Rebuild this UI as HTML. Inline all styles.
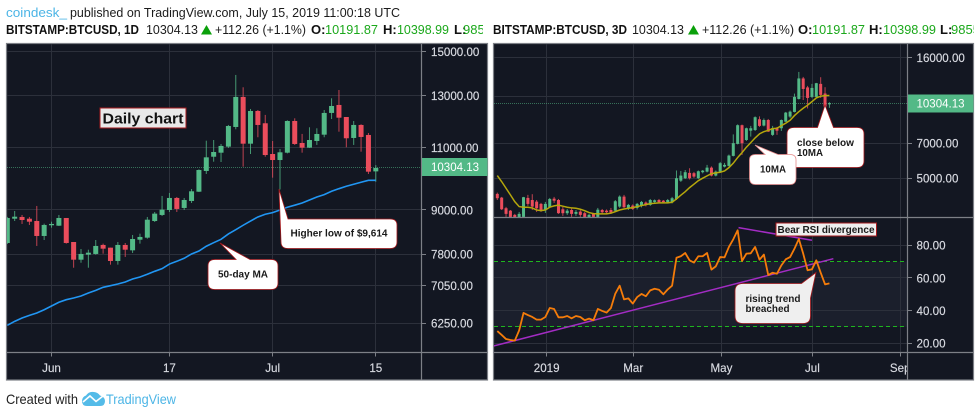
<!DOCTYPE html>
<html lang="en">
<head>
<meta charset="utf-8">
<title>BTCUSD charts</title>
<style>
html,body{margin:0;padding:0;background:#fff;width:980px;height:417px;overflow:hidden}
svg{display:block;font-family:"Liberation Sans",sans-serif}
.hd{font-size:13px;fill:#1b1b1b}
.hb{font-size:13px;fill:#111;font-weight:bold}
.hg{font-size:13px;fill:#1ba81b}
.ax{font-size:11.6px;fill:#d9dbe2;stroke:#d9dbe2;stroke-width:.15px}
.an{font-size:10.5px;fill:#1a1a1a;font-weight:bold}
</style>
</head>
<body>
<svg id="root" xmlns="http://www.w3.org/2000/svg" width="980" height="417" viewBox="0 0 980 417">
  <defs>
    <clipPath id="clip-left"><rect x="7" y="44" width="414.5" height="308"/></clipPath>
    <clipPath id="clip-right-top"><rect x="494" y="44" width="413" height="173"/></clipPath>
    <clipPath id="clip-right-rsi"><rect x="494" y="218" width="413" height="134"/></clipPath>
    <clipPath id="clip-head-left"><rect x="0" y="20" width="483" height="20"/></clipPath>
    <clipPath id="clip-head-right"><rect x="490" y="20" width="484" height="20"/></clipPath>
    <clipPath id="clip-time-right"><rect x="494" y="353" width="413" height="27"/></clipPath>
  </defs>

  <text x="6" y="17" font-size="13" fill="#4cb5e6" textLength="61" lengthAdjust="spacingAndGlyphs">coindesk_</text>
  <text class="hd" x="70" y="17" textLength="330" lengthAdjust="spacingAndGlyphs">published on TradingView.com, July 15, 2019 11:00:18 UTC</text>

  <g clip-path="url(#clip-head-left)">
    <text class="hb" x="6" y="34" textLength="133" lengthAdjust="spacingAndGlyphs">BITSTAMP:BTCUSD, 1D</text>
    <text class="hd" x="146" y="34" textLength="52" lengthAdjust="spacingAndGlyphs">10304.13</text>
    <polygon points="201,34.5 206.5,25 212,34.5" fill="#0aa00a"/>
    <text class="hd" x="215" y="34" textLength="91" lengthAdjust="spacingAndGlyphs">+112.26 (+1.1%)</text>
    <text class="hb" x="311" y="34">O:</text>
    <text class="hg" x="325" y="34" textLength="53" lengthAdjust="spacingAndGlyphs">10191.87</text>
    <text class="hb" x="383" y="34">H:</text>
    <text class="hg" x="397" y="34" textLength="52" lengthAdjust="spacingAndGlyphs">10398.99</text>
    <text class="hb" x="454" y="34">L:</text>
    <text class="hg" x="463" y="34">9855.00</text>
  </g>
  <g clip-path="url(#clip-head-right)">
    <text class="hb" x="493" y="34" textLength="134" lengthAdjust="spacingAndGlyphs">BITSTAMP:BTCUSD, 3D</text>
    <text class="hd" x="632" y="34" textLength="52" lengthAdjust="spacingAndGlyphs">10304.13</text>
    <polygon points="688,34.5 693.5,25 699,34.5" fill="#0aa00a"/>
    <text class="hd" x="702" y="34" textLength="92" lengthAdjust="spacingAndGlyphs">+112.26 (+1.1%)</text>
    <text class="hb" x="798" y="34">O:</text>
    <text class="hg" x="812" y="34" textLength="53" lengthAdjust="spacingAndGlyphs">10191.87</text>
    <text class="hb" x="869" y="34">H:</text>
    <text class="hg" x="883" y="34" textLength="53" lengthAdjust="spacingAndGlyphs">10398.99</text>
    <text class="hb" x="940" y="34">L:</text>
    <text class="hg" x="951" y="34">9855.00</text>
  </g>

  <rect x="6.5" y="43.5" width="481" height="336.5" fill="#131722" stroke="#7d8087" stroke-width="1.2"/>
  <rect x="493.5" y="43.5" width="480" height="336.5" fill="#131722" stroke="#7d8087" stroke-width="1.2"/>
  <rect id="rsiBand" x="494" y="262" width="413" height="65" fill="#1b1f2c"/>

  <g id="leftGrid"></g>
  <g id="rightGrid"></g>

  <line id="leftLast" x1="7" x2="421.5" stroke="#53b987" stroke-opacity=".55" stroke-dasharray="1 1"/>
  <line id="rightLast" x1="494" x2="907" stroke="#53b987" stroke-opacity=".55" stroke-dasharray="1 1"/>

  <g id="leftCandles" clip-path="url(#clip-left)"></g>
  <path id="leftMA" fill="none" stroke="#2196f3" stroke-width="1.6" clip-path="url(#clip-left)"/>
  <g id="rightCandles" clip-path="url(#clip-right-top)"></g>
  <path id="rightMA" fill="none" stroke="#b5a70c" stroke-width="1.5" clip-path="url(#clip-right-top)"/>

  <g id="rsiBands"></g>
  <g id="rsiTrends" clip-path="url(#clip-right-rsi)"></g>
  <path id="rsiLine" fill="none" stroke="#f57c0a" stroke-width="1.8" stroke-linejoin="round" clip-path="url(#clip-right-rsi)"/>

  <g id="frames" stroke="#7d8087" stroke-width="1.2">
    <line x1="421.5" y1="44" x2="421.5" y2="380"/>
    <line x1="7" y1="352.5" x2="487" y2="352.5"/>
    <line x1="907.5" y1="44" x2="907.5" y2="380"/>
    <line x1="494" y1="352.5" x2="973" y2="352.5"/>
    <line x1="494" y1="217.5" x2="973" y2="217.5"/>
  </g>
  <g id="leftAxis"></g>
  <g id="rightAxis"></g>
  <g id="rsiAxis"></g>
  <g id="leftTime"></g>
  <g id="rightTime" clip-path="url(#clip-time-right)"></g>

  <rect x="422" y="158" width="65.5" height="18" fill="#53b987"/>
  <text x="431" y="171.2" font-size="12" fill="#fff" textLength="48" lengthAdjust="spacingAndGlyphs">10304.13</text>
  <rect x="908" y="94.5" width="65.5" height="18" fill="#53b987"/>
  <text x="916.5" y="107.7" font-size="12" fill="#fff" textLength="48" lengthAdjust="spacingAndGlyphs">10304.13</text>

  <g>
    <rect x="100" y="108" width="86" height="20" fill="#e9e9e9" stroke="#a5181c" stroke-width="1"/>
    <text x="102.5" y="123.5" font-size="15" font-weight="bold" fill="#111" textLength="81" lengthAdjust="spacingAndGlyphs">Daily chart</text>
  </g>
  <g>
    <path d="M279,189 L288,219 H390 Q397,219 397,225 V242 Q397,248.5 390,248.5 H288 Q281,248.5 281,242 Z" fill="#fff" stroke="#a5181c" stroke-width=".8"/>
    <text class="an" x="290.5" y="236.5" textLength="97" lengthAdjust="spacingAndGlyphs">Higher low of $9,614</text>
  </g>
  <g>
    <path d="M220,243 L250,259.5 H271 Q278,259.5 278,266 V283 Q278,289.5 271,289.5 H215 Q208,289.5 208,283 V266 Q208,259.5 215,259.5 H236 Z" fill="#fff" stroke="#a5181c" stroke-width=".8"/>
    <text class="an" x="218" y="277.5" textLength="50" lengthAdjust="spacingAndGlyphs">50-day MA</text>
  </g>
  <g>
    <path d="M825,105 L833.5,127.5 H857 Q864,127.5 864,134 V161 Q864,167.5 857,167.5 H794 Q787,167.5 787,161 V134 Q787,127.5 794,127.5 H817.5 Z" fill="#fff" stroke="#a5181c" stroke-width=".8"/>
    <text class="an" x="797" y="146" textLength="57" lengthAdjust="spacingAndGlyphs">close below</text>
    <text class="an" x="797" y="156" textLength="26" lengthAdjust="spacingAndGlyphs">10MA</text>
  </g>
  <g>
    <path d="M755,145 L778,154.5 H790 Q796,154.5 796,160 V178 Q796,184.5 790,184.5 H755.5 Q749.5,184.5 749.5,178 V160 Q749.5,154.5 755.5,154.5 H765 Z" fill="#fff" stroke="#e58a8a" stroke-width=".8"/>
    <text class="an" x="760" y="172.5" textLength="26" lengthAdjust="spacingAndGlyphs">10MA</text>
  </g>
  <g>
    <rect x="776" y="223" width="100.5" height="13" fill="#efefef" stroke="#a5181c" stroke-width="1"/>
    <text class="an" x="777.5" y="233.2" textLength="97" lengthAdjust="spacingAndGlyphs">Bear RSI divergence</text>
  </g>
  <g>
    <path d="M816,272.5 L810.5,298 V316 Q810.5,323.5 803,323.5 H743 Q735,323.5 735,316 V291 Q735,283.5 743,283.5 H801.5 Z" fill="#efefef" stroke="#a5181c" stroke-width=".8"/>
    <text class="an" x="745.5" y="302" textLength="55" lengthAdjust="spacingAndGlyphs">rising trend</text>
    <text class="an" x="745.5" y="312" textLength="44" lengthAdjust="spacingAndGlyphs">breached</text>
  </g>

  <text x="6" y="404" font-size="14" fill="#222" textLength="72" lengthAdjust="spacingAndGlyphs">Created with</text>
  <g>
    <path d="M82,401 Q82,397 86,395.5 Q89,391 94,392 Q98,392.5 100,395.5 Q105,397 105,401 Q105,406 100,406 H87 Q82,406 82,401 Z" fill="#54bbe8"/>
    <path d="M83,402 L90,396 L96,401.5 L103,396" fill="none" stroke="#fff" stroke-width="1.6"/>
    <text x="106" y="404" font-size="14" fill="#4cb5e6" textLength="70" lengthAdjust="spacingAndGlyphs">TradingView</text>
  </g>
</svg>
<script>
var dailyOpen=[8091,8750,8799,8750,8685,8276,8567,8555,8770,8117,7667,7793,7810,8040,7970,7635,8040,7902,8177,8231,8685,8856,8999,9355,9058,9264,9546,10205,10685,10825,11038,11760,12956,11144,12383,11902,10779,10572,10825,11990,11169,11002,11241,11472,12305,12625,12145,11351,11837,11461,10191.87];
var dailyHigh=[8800,8970,8856,8799,9117,8611,8666,8856,8770,8117,7936,7918,8169,8074,7970,8117,8091,8303,8338,8799,8942,9416,9507,9385,9355,9629,10260,11252,11277,11133,11837,13908,13366,12463,12422,12227,11241,10955,12016,12094,11500,11749,11711,12422,12900,13249,12145,11990,11864,11535,10398.99];
var dailyLow=[8065,8685,8603,8575,8014,8169,8500,8547,8074,7471,7593,7471,7793,7817,7545,7545,7735,7835,8074,8203,8658,8827,8942,8942,8999,9205,9537,10107,10515,10505,10991,11673,10348,10779,11377,10685,9987,9614,10800,11099,10825,10991,11099,11377,12067,11583,11016,11099,10860,10107,9855];
var dailyClose=[8770,8807,8713,8666,8276,8575,8603,8770,8091,7667,7810,7842,8014,7944,7635,8040,7918,8196,8250,8722,8894,9008,9355,9029,9294,9558,10237,10664,10849,11063,11798,12956,11144,12383,11837,10744,10572,10838,11990,11133,11002,11277,11498,12305,12584,12118,11340,11837,11388,10182,10304.13];
var dailyMA50=[6205,6285,6352,6408,6456,6524,6604,6683,6739,6776,6820,6886,6945,7014,7050,7089,7134,7204,7251,7315,7385,7448,7560,7627,7702,7810,7885,8006,8099,8188,8330,8445,8567,8685,8799,8876,8922,8999,9079,9139,9205,9294,9385,9456,9558,9639,9714,9778,9840,9903,9903];
var dailyPriceTicks=[15000,13000,11000,9000,7800,7050,6250];
var dailyTimeLabels=['Jun','17','Jul','15'];
var dailyTimeBars=[6,22,36,50];

var threeDayOpen=[4300,4148,3745,3658,3513,3378,3445,4136,4054,3991,3905,3682,3782,4107,4054,3708,3570,3682,3547,3625,3570,3412,3547,3445,3682,3658,3682,3658,3805,4189,3745,3842,3756,3831,3954,3868,3980,4054,4028,3968,3968,4095,4884,5001,5264,5249,5001,5299,5329,5538,5130,5329,5593,5631,6201,6961,8334,7227,7906,7957,8824,8303,8762,7592,8094,8094,8625,9054,9471,10732,13076,11994,10946,10946,12409,11312,10191.87];
var threeDayHigh=[4353,4177,3794,3682,3547,3614,4177,4259,4288,4054,3942,3980,4136,4177,4095,3794,3719,3756,3682,3682,3614,3547,3581,3756,3719,3700,3756,4054,4239,4259,3905,3887,3942,4017,3998,4095,4075,4095,4054,4095,4177,5388,5363,5413,5506,5314,5388,5413,5686,5604,5388,5851,5796,6280,7628,8400,8384,8142,8279,9072,9072,8895,8851,8279,8199,8806,9471,9604,11301,13924,13271,12173,12409,12527,13232,12020,10398.99];
var threeDayLow=[4054,3682,3445,3412,3310,3310,3412,3831,3682,3614,3614,3581,3756,3942,3547,3479,3513,3445,3479,3445,3378,3344,3378,3412,3547,3547,3547,3614,3756,3756,3682,3682,3700,3775,3812,3831,3942,3942,3931,3924,3924,4054,4826,4966,4941,5015,4966,5239,5289,5090,5090,5314,5549,5604,6170,6928,6261,7161,7468,7884,8199,8239,7811,7519,7592,7884,8601,8939,9427,10678,10624,9794,10839,10839,10839,9843,9855];
var threeDayClose=[4124,3708,3547,3445,3378,3547,4165,3905,3805,3745,3682,3905,4095,4028,3570,3570,3658,3547,3614,3513,3445,3513,3445,3693,3604,3604,3591,4006,4189,3782,3868,3719,3905,3980,3868,4054,4043,3968,3968,4054,4124,5001,5130,5299,5001,5080,5348,5378,5538,5130,5329,5780,5686,6220,7008,8335,7008,8094,8094,9001,8279,8762,7833,8094,7906,8762,9409,9497,10946,13076,11817,10839,11935,12492,11162,9970,10304.13];
var threeDayMA10=[5130,4839,4541,4259,3991,3805,3782,3782,3756,3682,3658,3682,3782,3831,3857,3820,3782,3756,3745,3708,3658,3591,3557,3547,3547,3547,3570,3625,3682,3719,3745,3768,3805,3842,3879,3916,3931,3942,3942,3942,3968,4095,4247,4394,4568,4722,4884,5001,5115,5229,5264,5299,5363,5538,5780,6102,6400,6742,7048,7373,7665,7833,7935,8062,8094,8303,8496,8738,9143,9497,9814,10107,10458,10839,11022,11088,11090];
var threeDayPriceTicks=[16000,11000,7000,5000];
var threeDayPriceLabels=['16000.00','','7000.00','5000.00'];
var threeDayTimeLabels=['2019','Mar','May','Jul','Sep'];
var threeDayTimeBars=[11.3,31.1,51.3,72.1,92.2];

var rsiValues=[27.5,25.1,22.6,22.0,21.6,27.9,38.6,37.3,36.1,34.5,34.5,36.1,41.6,41.0,35.9,35.9,36.7,35.3,36.7,36.1,34.1,35.1,34.1,41.0,39.8,38.8,41.6,50.4,55.3,46.9,47.5,44.3,48.3,50.2,48.8,52.4,53.4,52.8,50.0,53.0,55.3,72.4,73.3,75.3,70.8,69.4,73.3,73.3,75.3,65.1,67.1,72.8,72.6,79.0,83.7,89.2,70.4,74.9,75.1,79.0,71.2,74.3,61.8,63.2,62.6,67.7,71.4,72.8,77.9,83.9,74.9,64.7,65.3,70.8,63.2,56.1,56.7];
var rsiTicks=[80,60,40,20];
var rsiBandLevels=[70,30];
var risingTrendBars=[-0.9,76.9];
var risingTrendValues=[18.3,71.8];
var bearTrendBars=[55.2,72];
var bearTrendValues=[90.8,83.1];
var lastPrice=10304.13;

var NS='http://www.w3.org/2000/svg';
var UP='#53b987',DOWN='#eb4d5c',GRID='#2c303b';
function make(tag,parentId,attrs){
  var el=document.createElementNS(NS,tag);
  for(var k in attrs){el.setAttribute(k,attrs[k]);}
  document.getElementById(parentId).appendChild(el);
  return el;
}
function crisp(v){return Math.floor(v)+0.5;}
function dailyX(i){return 7.3+7.37*i;}
function dailyY(v){return 51.5+310.2*Math.log(15000/v);}
function threeX(i){return 497.3+4.37*i;}
function threeY(v){return 57.5+103.8*Math.log(16000/v);}
function rsiY(v){return 245.3+(80-v)*1.633;}

function drawCandles(parentId,prefix,o,h,l,c,xf,yf,w){
  for(var i=0;i<o.length;i++){
    var up=c[i]>=o[i],col=up?UP:DOWN;
    var x=xf(i);
    var wick=make('line',parentId,{x1:x,x2:x,y1:yf(h[i]),y2:yf(l[i]),stroke:col,'stroke-width':1,'stroke-opacity':.8});
    
    
    var top=yf(Math.max(o[i],c[i])),bot=yf(Math.min(o[i],c[i]));
    var body=make('rect',parentId,{x:x-w/2,y:top,width:w,height:Math.max(bot-top,1),fill:col});
    
    
  }
}
function linePath(vals,xf,yf){
  var d='';
  for(var i=0;i<vals.length;i++){d+=(i?'L':'M')+xf(i).toFixed(2)+' '+yf(vals[i]).toFixed(2);}
  return d;
}
function drawGridH(parentId,y,x1,x2){
  var yy=crisp(y);
  var g=make('line',parentId,{x1:x1,x2:x2,y1:yy,y2:yy,stroke:GRID,'stroke-width':1});
  
  
}
function drawGridV(parentId,x,y1,y2){
  var xx=crisp(x);
  var g=make('line',parentId,{x1:xx,x2:xx,y1:y1,y2:y2,stroke:GRID,'stroke-width':1});
  
  
}
function drawPriceLabel(parentId,y,xTick,xText,label){
  var yy=crisp(y);
  var t=make('line',parentId,{x1:xTick,x2:xTick+4,y1:yy,y2:yy,stroke:'#7d8087','stroke-width':1});
  
  
  if(label){
    var s=make('text',parentId,{x:xText,y:y+4.3,'class':'ax'});
    
    
    s.textContent=label;
  }
}
function drawTimeLabel(parentId,x,label){
  var xx=crisp(x);
  var t=make('line',parentId,{x1:xx,x2:xx,y1:352.5,y2:356.5,stroke:'#7d8087','stroke-width':1});
  
  
  var s=make('text',parentId,{x:x,y:372,'class':'ax','text-anchor':'middle'});
  
  
  s.textContent=label;
}

var i,y,x;
for(i=0;i<dailyPriceTicks.length;i++){
  y=dailyY(dailyPriceTicks[i]);
  drawGridH('leftGrid',y,7,421.5);
  drawPriceLabel('leftAxis',y,422,431,dailyPriceTicks[i].toFixed(2));
}
for(i=0;i<dailyTimeBars.length;i++){
  x=dailyX(dailyTimeBars[i]);
  drawGridV('leftGrid',x,44,352);
  drawTimeLabel('leftTime',x,dailyTimeLabels[i]);
}
for(i=0;i<threeDayPriceTicks.length;i++){
  y=threeY(threeDayPriceTicks[i]);
  drawGridH('rightGrid',y,494,907);
  drawPriceLabel('rightAxis',y,908,916.5,threeDayPriceLabels[i]);
}
for(i=0;i<rsiTicks.length;i++){
  y=rsiY(rsiTicks[i]);
  drawGridH('rightGrid',y,494,907);
  drawPriceLabel('rsiAxis',y,908,916.5,rsiTicks[i].toFixed(2));
}
for(i=0;i<threeDayTimeBars.length;i++){
  x=threeX(threeDayTimeBars[i]);
  drawGridV('rightGrid',x,44,352);
  drawTimeLabel('rightTime',x,threeDayTimeLabels[i]);
}

var band=document.getElementById('rsiBand');
band.setAttribute('y',rsiY(rsiBandLevels[0]));
band.setAttribute('height',rsiY(rsiBandLevels[1])-rsiY(rsiBandLevels[0]));
for(i=0;i<rsiBandLevels.length;i++){
  y=crisp(rsiY(rsiBandLevels[i]));
  var bl=make('line','rsiBands',{x1:494,x2:907,y1:y,y2:y,stroke:'#1fb51f','stroke-width':1,'stroke-dasharray':'4 3'});
  
  
}

var yl=crisp(dailyY(lastPrice));
document.getElementById('leftLast').setAttribute('y1',yl);
document.getElementById('leftLast').setAttribute('y2',yl);
var yr=crisp(threeY(lastPrice));
document.getElementById('rightLast').setAttribute('y1',yr);
document.getElementById('rightLast').setAttribute('y2',yr);

drawCandles('leftCandles','daily-candle',dailyOpen,dailyHigh,dailyLow,dailyClose,dailyX,dailyY,5);
document.getElementById('leftMA').setAttribute('d',linePath(dailyMA50,dailyX,dailyY));
drawCandles('rightCandles','three-day-candle',threeDayOpen,threeDayHigh,threeDayLow,threeDayClose,threeX,threeY,3);
document.getElementById('rightMA').setAttribute('d',linePath(threeDayMA10,threeX,threeY));
document.getElementById('rsiLine').setAttribute('d',linePath(rsiValues,threeX,rsiY));

var rt=make('line','rsiTrends',{x1:threeX(risingTrendBars[0]),x2:threeX(risingTrendBars[1]),y1:rsiY(risingTrendValues[0]),y2:rsiY(risingTrendValues[1]),stroke:'#a32cc4','stroke-width':1.5});


var bt=make('line','rsiTrends',{x1:threeX(bearTrendBars[0]),x2:threeX(bearTrendBars[1]),y1:rsiY(bearTrendValues[0]),y2:rsiY(bearTrendValues[1]),stroke:'#a32cc4','stroke-width':1.5});


</script>
</body>
</html>
